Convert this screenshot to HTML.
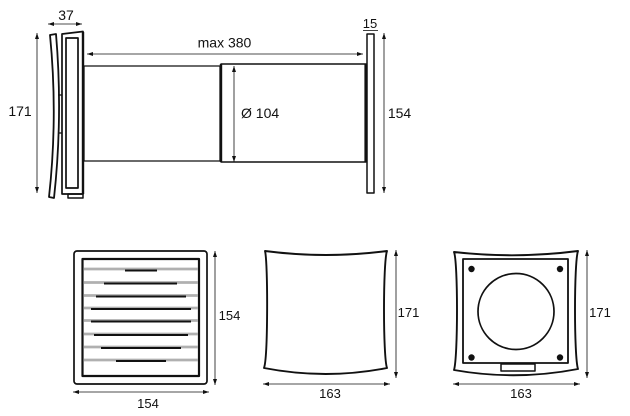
<!DOCTYPE html>
<html><head><meta charset="utf-8"><style>
html,body{margin:0;padding:0;background:#fff;width:630px;height:416px;overflow:hidden}
svg{display:block}
text{font-family:"Liberation Sans",Arial,sans-serif;fill:#111}
</style></head><body>
<svg width="630" height="416" viewBox="0 0 630 416" xmlns="http://www.w3.org/2000/svg">
<defs>
<marker id="a" viewBox="0 0 6 4" refX="6" refY="2" markerWidth="6" markerHeight="4" markerUnits="userSpaceOnUse" orient="auto-start-reverse"><path d="M0,0 L6,2 L0,4 Z" fill="#111"/></marker>
</defs>
<g fill="none" stroke="#111" stroke-linejoin="round">
<!-- side view -->
<path d="M50,35 Q58,116 49,197 L54,198 Q63,116 56,34 Z" fill="#fff" stroke-width="1.8"/>
<line x1="58" y1="95" x2="62" y2="95" stroke-width="1.3"/>
<line x1="58" y1="133" x2="62" y2="133" stroke-width="1.3"/>
<path d="M62,34 L83,31.5 L83,194 L62,194 Z" stroke-width="1.7"/>
<line x1="83" y1="32" x2="83" y2="194" stroke-width="2.4"/>
<rect x="66" y="38" width="12" height="150" stroke-width="1.7"/>
<rect x="68" y="194" width="15" height="4" stroke-width="1.5"/>
<rect x="84" y="66" width="136" height="95" stroke-width="1.3"/>
<rect x="221" y="64" width="145" height="98" stroke-width="1.4"/>
<line x1="221" y1="64" x2="221" y2="162" stroke-width="2.4"/>
<line x1="365.5" y1="64" x2="365.5" y2="162" stroke-width="2.2"/>
<rect x="367" y="34" width="7" height="159" stroke-width="1.5"/>
<!-- side dims -->
<g stroke-width="0.8">
<line x1="48" y1="24" x2="82" y2="24" marker-start="url(#a)" marker-end="url(#a)"/>
<line x1="37" y1="33" x2="37" y2="193" marker-start="url(#a)" marker-end="url(#a)"/>
<line x1="87" y1="54" x2="363" y2="54" marker-start="url(#a)" marker-end="url(#a)"/>
<line x1="234" y1="66" x2="234" y2="162" marker-start="url(#a)" marker-end="url(#a)"/>
<line x1="363" y1="30.5" x2="378" y2="30.5"/>
<line x1="384" y1="33" x2="384" y2="193" marker-start="url(#a)" marker-end="url(#a)"/>
</g>
<!-- grille -->
<rect x="74" y="251" width="133" height="133" rx="3" stroke-width="1.7"/>
<rect x="82.5" y="259" width="116.5" height="117" stroke-width="2.2"/>
<g stroke="#b0b0b0" stroke-width="2.8">
<line x1="84" y1="269" x2="198" y2="269"/>
<line x1="84" y1="282.5" x2="198" y2="282.5"/>
<line x1="84" y1="295.5" x2="198" y2="295.5"/>
<line x1="84" y1="308" x2="198" y2="308"/>
<line x1="84" y1="320.5" x2="198" y2="320.5"/>
<line x1="84" y1="334" x2="198" y2="334"/>
<line x1="84" y1="347" x2="198" y2="347"/>
<line x1="84" y1="360" x2="198" y2="360"/>
</g>
<g stroke-width="2">
<line x1="125" y1="270.5" x2="157" y2="270.5"/>
<line x1="104" y1="283.5" x2="177" y2="283.5"/>
<line x1="96" y1="296.5" x2="186" y2="296.5"/>
<line x1="91" y1="309" x2="191" y2="309"/>
<line x1="91" y1="321.5" x2="191" y2="321.5"/>
<line x1="94" y1="335" x2="188" y2="335"/>
<line x1="101" y1="348" x2="181" y2="348"/>
<line x1="116" y1="361" x2="166" y2="361"/>
</g>
<!-- front cover -->
<path d="M265,251 Q326,259 387,251 C383,262 383,357 387,368 Q326,380 264,368 C268,357 268,262 265,251 Z" stroke-width="1.9"/>
<!-- back -->
<path d="M454,252 Q516,259 578,251 C574,262 574,357 578,369 Q516,381 454,370 C458,357 458,262 454,252 Z" stroke-width="1.9"/>
<rect x="463" y="259" width="105" height="104" stroke-width="1.8"/>
<circle cx="516" cy="311.5" r="38" stroke-width="1.7"/>
<rect x="501" y="364" width="34" height="7" fill="#fff" stroke-width="1.5"/>
<!-- bottom dims -->
<g stroke-width="0.8">
<line x1="215" y1="251" x2="215" y2="385" marker-start="url(#a)" marker-end="url(#a)"/>
<line x1="73" y1="392" x2="209" y2="392" marker-start="url(#a)" marker-end="url(#a)"/>
<line x1="396" y1="250" x2="396" y2="378" marker-start="url(#a)" marker-end="url(#a)"/>
<line x1="263" y1="384" x2="390" y2="384" marker-start="url(#a)" marker-end="url(#a)"/>
<line x1="587" y1="250" x2="587" y2="378" marker-start="url(#a)" marker-end="url(#a)"/>
<line x1="453" y1="384" x2="580" y2="384" marker-start="url(#a)" marker-end="url(#a)"/>
</g>
</g>
<g fill="#111">
<circle cx="471.5" cy="269" r="3.2"/>
<circle cx="560" cy="269" r="3.2"/>
<circle cx="471.5" cy="357.5" r="3.2"/>
<circle cx="560" cy="357.5" r="3.2"/>
</g>
<g font-size="14">
<text x="66" y="20" text-anchor="middle">37</text>
<text x="20" y="116" text-anchor="middle">171</text>
<text x="224.5" y="47.5" text-anchor="middle">max 380</text>
<text x="241" y="118">Ø 104</text>
<text x="370" y="28" text-anchor="middle" font-size="13">15</text>
<text x="399.5" y="118" text-anchor="middle">154</text>
</g>
<g font-size="13">
<text x="229.5" y="320" text-anchor="middle">154</text>
<text x="148" y="408" text-anchor="middle">154</text>
<text x="408.5" y="317" text-anchor="middle">171</text>
<text x="330" y="398" text-anchor="middle">163</text>
<text x="600" y="317" text-anchor="middle">171</text>
<text x="521" y="398" text-anchor="middle">163</text>
</g>
</svg>
</body></html>
